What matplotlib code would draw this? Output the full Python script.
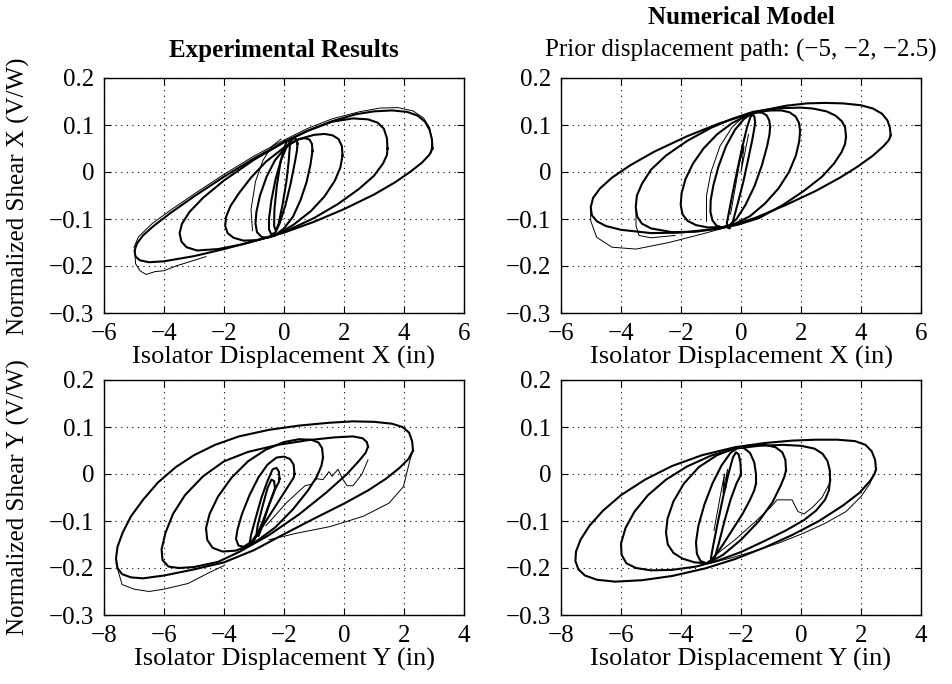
import matplotlib.pyplot as plt

plt.rcParams['font.family'] = ['Liberation Serif', 'DejaVu Serif']
plt.rcParams['font.size'] = 18

# axis ticks
shear_ticks = [-0.3, -0.2, -0.1, 0, 0.1, 0.2]
shear_labels = ['\u22120.3', '\u22120.2', '\u22120.1', '0', '0.1', '0.2']
disp_x_ticks = [-6, -4, -2, 0, 2, 4, 6]
disp_x_labels = ['\u22126', '\u22124', '\u22122', '0', '2', '4', '6']
disp_y_ticks = [-8, -6, -4, -2, 0, 2, 4]
disp_y_labels = ['\u22128', '\u22126', '\u22124', '\u22122', '0', '2', '4']

# ---- experimental, X direction ----
exp_x_a = [(4.95, 0.05), (4.93, 0.07), (4.85, 0.09), (4.7, 0.107), (4.45, 0.12), (4.1, 0.128),
           (3.6, 0.131), (3.0, 0.129), (2.4, 0.123), (1.6, 0.108), (0.8, 0.088), (0.0, 0.064),
           (-1.0, 0.029), (-2.0, -0.01), (-3.0, -0.052), (-3.8, -0.088), (-4.35, -0.115),
           (-4.7, -0.135), (-4.9, -0.152), (-4.98, -0.167), (-4.95, -0.18), (-4.8, -0.188),
           (-4.5, -0.192), (-4.0, -0.19), (-3.0, -0.179), (-2.0, -0.164), (-1.0, -0.147),
           (0.0, -0.129), (1.0, -0.106), (2.0, -0.079), (3.0, -0.048), (3.7, -0.022), (4.2, 0.0),
           (4.6, 0.02), (4.85, 0.037), (4.95, 0.05)]
exp_x_a2 = [(4.9, 0.04), (4.93, 0.07), (4.85, 0.095), (4.65, 0.115), (4.3, 0.13), (3.8, 0.137),
            (3.2, 0.136), (2.5, 0.128), (1.6, 0.113), (0.8, 0.093), (0.0, 0.068), (-1.0, 0.034),
            (-2.0, -0.005), (-3.0, -0.047), (-3.8, -0.082), (-4.4, -0.11), (-4.85, -0.138),
            (-5.0, -0.16)]
exp_x_low = [(-4.97, -0.165), (-4.95, -0.195), (-4.8, -0.21), (-4.6, -0.218), (-4.3, -0.212),
             (-4.0, -0.21), (-3.6, -0.2), (-3.1, -0.19), (-2.6, -0.18)]
exp_x_b = [(3.45, 0.05), (3.43, 0.072), (3.33, 0.092), (3.12, 0.105), (2.8, 0.112), (2.3, 0.114),
           (1.6, 0.107), (0.8, 0.088), (0.0, 0.063), (-1.0, 0.026), (-2.0, -0.018), (-2.7, -0.055),
           (-3.15, -0.085), (-3.4, -0.11), (-3.48, -0.13), (-3.42, -0.148), (-3.25, -0.16),
           (-2.9, -0.167), (-2.2, -0.164), (-1.4, -0.154), (-0.6, -0.14), (0.2, -0.122),
           (1.0, -0.098), (1.8, -0.068), (2.5, -0.036), (3.0, -0.008), (3.3, 0.018), (3.43, 0.036),
           (3.45, 0.05)]
exp_x_c = [(1.95, 0.035), (1.93, 0.055), (1.82, 0.07), (1.62, 0.078), (1.35, 0.081), (1.0, 0.079),
           (0.5, 0.07), (0.0, 0.052), (-0.6, 0.022), (-1.1, -0.012), (-1.5, -0.045), (-1.78, -0.072),
           (-1.93, -0.095), (-1.96, -0.115), (-1.88, -0.13), (-1.68, -0.14), (-1.35, -0.146),
           (-0.9, -0.145), (-0.3, -0.135), (0.3, -0.113), (0.9, -0.083), (1.35, -0.052),
           (1.7, -0.018), (1.88, 0.01), (1.95, 0.035)]
exp_x_d = [(0.95, 0.045), (0.93, 0.06), (0.85, 0.069), (0.7, 0.072), (0.5, 0.07), (0.25, 0.062),
           (0.0, 0.048), (-0.3, 0.025), (-0.58, -0.01), (-0.8, -0.05), (-0.92, -0.085),
           (-0.95, -0.11), (-0.9, -0.128), (-0.75, -0.138), (-0.55, -0.14), (-0.3, -0.135),
           (0.0, -0.12), (0.3, -0.095), (0.55, -0.06), (0.75, -0.022), (0.88, 0.015), (0.95, 0.045)]
exp_x_e = [(0.45, 0.06), (0.43, 0.068), (0.36, 0.072), (0.25, 0.068), (0.1, 0.055), (-0.1, 0.025),
           (-0.28, -0.015), (-0.42, -0.06), (-0.5, -0.1), (-0.5, -0.122), (-0.43, -0.132),
           (-0.3, -0.13), (-0.15, -0.11), (0.05, -0.07), (0.22, -0.025), (0.36, 0.02), (0.43, 0.045),
           (0.45, 0.06)]
exp_x_f = [(0.2, 0.06), (0.17, 0.067), (0.1, 0.066), (0.0, 0.05), (-0.12, 0.02), (-0.24, -0.03),
           (-0.32, -0.08), (-0.33, -0.115), (-0.27, -0.125), (-0.18, -0.11), (-0.05, -0.07),
           (0.08, -0.02), (0.16, 0.025), (0.2, 0.06)]
exp_x_path = [(-1.05, -0.125), (-1.1, -0.08), (-0.95, -0.02), (-0.7, 0.025), (-0.4, 0.055),
              (-0.1, 0.07)]

# ---- numerical model, X direction ----
num_x_a = [(4.99, 0.078), (4.96, 0.095), (4.88, 0.11), (4.7, 0.124), (4.4, 0.135), (4.0, 0.142),
           (3.4, 0.146), (2.8, 0.147), (2.2, 0.146), (1.5, 0.141), (0.8, 0.132), (0.2, 0.122),
           (-0.7, 0.104), (-1.8, 0.076), (-2.9, 0.043), (-3.7, 0.014), (-4.3, -0.012),
           (-4.7, -0.035), (-4.93, -0.055), (-5.01, -0.075), (-4.97, -0.092), (-4.8, -0.105),
           (-4.5, -0.115), (-4.0, -0.123), (-3.0, -0.13), (-2.0, -0.129), (-1.0, -0.122),
           (-0.3, -0.114), (0.5, -0.097), (1.5, -0.07), (2.5, -0.04), (3.3, -0.012), (3.9, 0.012),
           (4.4, 0.035), (4.75, 0.055), (4.93, 0.068), (4.99, 0.078)]
num_x_virgin = [(-5.01, -0.075), (-5.01, -0.104), (-4.81, -0.139), (-4.3, -0.16), (-3.5, -0.164),
                (-2.4, -0.15), (-1.3, -0.132), (-0.5, -0.118)]
num_x_b = [(3.5, 0.075), (3.47, 0.095), (3.36, 0.108), (3.15, 0.12), (2.85, 0.129), (2.4, 0.135),
           (2.0, 0.137), (1.4, 0.136), (0.8, 0.132), (0.4, 0.128), (-0.3, 0.113), (-1.0, 0.094),
           (-1.8, 0.066), (-2.5, 0.035), (-3.0, 0.005), (-3.3, -0.025), (-3.47, -0.05),
           (-3.51, -0.075), (-3.46, -0.095), (-3.3, -0.11), (-3.0, -0.12), (-2.3, -0.128),
           (-1.5, -0.127), (-0.7, -0.12), (-0.1, -0.112), (0.6, -0.098), (1.4, -0.07), (2.1, -0.04),
           (2.7, -0.01), (3.1, 0.018), (3.35, 0.042), (3.47, 0.06), (3.5, 0.075)]
num_x_b_thin = [(-3.5, -0.068), (-3.5, -0.115), (-3.4, -0.135), (-3.0, -0.14), (-2.2, -0.135)]
num_x_c = [(1.97, 0.088), (1.93, 0.105), (1.82, 0.118), (1.62, 0.127), (1.35, 0.131), (1.0, 0.131),
           (0.6, 0.128), (0.2, 0.12), (-0.3, 0.104), (-0.8, 0.08), (-1.25, 0.05), (-1.6, 0.018),
           (-1.85, -0.015), (-1.98, -0.045), (-2.01, -0.07), (-1.95, -0.09), (-1.78, -0.104),
           (-1.5, -0.113), (-1.1, -0.118), (-0.6, -0.117), (-0.2, -0.11), (0.3, -0.094),
           (0.8, -0.067), (1.25, -0.035), (1.6, 0.0), (1.83, 0.035), (1.94, 0.065), (1.97, 0.088)]
num_x_d = [(0.97, 0.096), (0.94, 0.11), (0.86, 0.12), (0.72, 0.126), (0.55, 0.127), (0.35, 0.124),
           (0.1, 0.113), (-0.2, 0.09), (-0.5, 0.055), (-0.75, 0.012), (-0.92, -0.028),
           (-1.01, -0.06), (-1.02, -0.085), (-0.95, -0.103), (-0.82, -0.114), (-0.62, -0.118),
           (-0.4, -0.114), (-0.15, -0.1), (0.15, -0.07), (0.45, -0.03), (0.7, 0.015), (0.87, 0.055),
           (0.95, 0.08), (0.97, 0.096)]
num_x_e = [(0.47, 0.105), (0.45, 0.117), (0.4, 0.122), (0.32, 0.118), (0.2, 0.095), (0.05, 0.055),
           (-0.12, 0.005), (-0.28, -0.045), (-0.4, -0.085), (-0.47, -0.108), (-0.45, -0.118),
           (-0.38, -0.12), (-0.27, -0.105), (-0.1, -0.065), (0.08, -0.02), (0.25, 0.03),
           (0.38, 0.07), (0.45, 0.095), (0.47, 0.105)]
num_x_path = [(-1.15, -0.105), (-1.15, -0.05), (-1.0, 0.0), (-0.7, 0.055), (-0.3, 0.095),
              (0.2, 0.125)]
num_x_zig = [(-0.35, -0.09), (-0.1, 0.0), (0.05, 0.06), (-0.05, 0.02), (0.1, 0.055), (0.0, 0.0),
             (0.25, 0.08)]

# ---- experimental, Y direction ----
exp_y_a = [(2.3, 0.05), (2.27, 0.07), (2.17, 0.088), (1.95, 0.1), (1.6, 0.107), (1.0, 0.111),
           (0.3, 0.112), (-0.5, 0.109), (-1.5, 0.103), (-2.5, 0.094), (-3.5, 0.08), (-4.3, 0.062),
           (-5.0, 0.04), (-5.6, 0.015), (-6.2, -0.018), (-6.7, -0.055), (-7.1, -0.09),
           (-7.38, -0.125), (-7.55, -0.155), (-7.6, -0.18), (-7.55, -0.2), (-7.4, -0.213),
           (-7.1, -0.22), (-6.7, -0.222), (-6.0, -0.216), (-5.0, -0.203), (-4.0, -0.188),
           (-3.0, -0.162), (-2.0, -0.128), (-1.0, -0.095), (0.0, -0.063), (0.8, -0.035),
           (1.4, -0.01), (1.85, 0.013), (2.15, 0.032), (2.3, 0.05)]
exp_y_low = [(-7.6, -0.19), (-7.4, -0.235), (-7.0, -0.245), (-6.5, -0.25), (-6.0, -0.245),
             (-5.2, -0.233), (-4.5, -0.21), (-4.0, -0.195)]
exp_y_tail = [(2.3, 0.05), (2.2, 0.03), (1.98, -0.027), (1.5, -0.062), (0.64, -0.09),
              (-0.47, -0.112), (-1.58, -0.126), (-2.5, -0.14)]
exp_y_b = [(0.8, 0.058), (0.76, 0.068), (0.62, 0.076), (0.3, 0.08), (-0.3, 0.078), (-1.2, 0.072),
           (-2.2, 0.062), (-3.2, 0.047), (-4.0, 0.027), (-4.7, -0.005), (-5.3, -0.045),
           (-5.7, -0.085), (-5.95, -0.125), (-6.08, -0.16), (-6.05, -0.183), (-5.85, -0.197),
           (-5.5, -0.2), (-5.0, -0.198), (-4.2, -0.187), (-3.5, -0.166), (-2.5, -0.13),
           (-1.5, -0.086), (-0.6, -0.04), (0.1, 0.0), (0.5, 0.028), (0.72, 0.045), (0.8, 0.058)]
exp_y_c = [(-0.7, 0.035), (-0.73, 0.055), (-0.85, 0.067), (-1.1, 0.073), (-1.5, 0.074),
           (-2.0, 0.068), (-2.6, 0.052), (-3.2, 0.027), (-3.75, -0.008), (-4.2, -0.048),
           (-4.48, -0.085), (-4.6, -0.115), (-4.56, -0.14), (-4.38, -0.157), (-4.05, -0.165),
           (-3.6, -0.163), (-3.0, -0.147), (-2.3, -0.114), (-1.7, -0.075), (-1.2, -0.035),
           (-0.9, -0.005), (-0.75, 0.018), (-0.7, 0.035)]
exp_y_d = [(-1.65, 0.0), (-1.68, 0.02), (-1.8, 0.032), (-2.0, 0.037), (-2.25, 0.035),
           (-2.55, 0.02), (-2.85, -0.007), (-3.15, -0.045), (-3.4, -0.085), (-3.55, -0.118),
           (-3.6, -0.138), (-3.52, -0.152), (-3.35, -0.155), (-3.1, -0.145), (-2.75, -0.115),
           (-2.4, -0.08), (-2.05, -0.045), (-1.8, -0.02), (-1.68, -0.008), (-1.65, 0.0)]
exp_y_e = [(-2.15, -0.01), (-2.17, 0.005), (-2.25, 0.013), (-2.38, 0.01), (-2.55, -0.015),
           (-2.75, -0.05), (-2.95, -0.095), (-3.1, -0.13), (-3.14, -0.145), (-3.05, -0.148),
           (-2.9, -0.13), (-2.7, -0.1), (-2.48, -0.062), (-2.28, -0.03), (-2.17, -0.017),
           (-2.15, -0.01)]
exp_y_f = [(-2.3, -0.03), (-2.33, -0.015), (-2.42, -0.012), (-2.55, -0.03), (-2.72, -0.07),
           (-2.88, -0.11), (-2.92, -0.13), (-2.85, -0.132), (-2.72, -0.11), (-2.55, -0.075),
           (-2.38, -0.045), (-2.3, -0.03)]
exp_y_path = [(-2.6, -0.11), (-1.9, -0.06), (-1.3, -0.025), (-1.1, -0.022), (-0.9, -0.01),
              (-0.7, -0.012), (-0.5, 0.005), (-0.4, -0.005), (-0.2, 0.01), (-0.05, -0.01),
              (0.1, -0.025), (0.3, -0.025), (0.6, 0.0), (0.8, 0.03)]

# ---- numerical model, Y direction ----
num_y_a = [(2.5, 0.01), (2.47, 0.03), (2.36, 0.048), (2.15, 0.062), (1.8, 0.07), (1.2, 0.073),
           (0.5, 0.073), (-0.3, 0.071), (-1.2, 0.066), (-2.2, 0.057), (-3.3, 0.04), (-4.3, 0.017),
           (-5.2, -0.012), (-6.0, -0.045), (-6.6, -0.078), (-7.05, -0.11), (-7.35, -0.14),
           (-7.5, -0.165), (-7.52, -0.185), (-7.42, -0.203), (-7.2, -0.216), (-6.8, -0.225),
           (-6.2, -0.229), (-5.3, -0.226), (-4.3, -0.217), (-3.2, -0.201), (-2.2, -0.181),
           (-1.2, -0.156), (-0.3, -0.13), (0.6, -0.1), (1.4, -0.067), (1.95, -0.04), (2.3, -0.015),
           (2.45, 0.0), (2.5, 0.01)]
num_y_tail = [(2.5, 0.01), (2.3, -0.02), (2.0, -0.048), (1.5, -0.08), (0.8, -0.105),
              (0.08, -0.126), (-0.7, -0.146), (-1.5, -0.163), (-2.3, -0.178), (-3.03, -0.19)]
num_y_b = [(0.97, -0.013), (0.96, 0.008), (0.88, 0.028), (0.72, 0.043), (0.45, 0.054), (0.0, 0.06),
           (-0.6, 0.062), (-1.4, 0.06), (-2.2, 0.054), (-3.0, 0.039), (-3.8, 0.016), (-4.5, -0.012),
           (-5.1, -0.045), (-5.55, -0.08), (-5.85, -0.115), (-6.0, -0.148), (-5.98, -0.172),
           (-5.82, -0.19), (-5.5, -0.2), (-5.0, -0.205), (-4.3, -0.204), (-3.5, -0.197),
           (-2.8, -0.185), (-2.0, -0.166), (-1.2, -0.142), (-0.5, -0.12), (0.1, -0.098),
           (0.5, -0.078), (0.8, -0.055), (0.93, -0.035), (0.97, -0.013)]
num_y_c = [(-0.5, 0.008), (-0.52, 0.03), (-0.62, 0.046), (-0.85, 0.057), (-1.2, 0.062),
           (-1.7, 0.061), (-2.2, 0.055), (-2.8, 0.04), (-3.4, 0.015), (-3.9, -0.02), (-4.25, -0.058),
           (-4.45, -0.095), (-4.5, -0.125), (-4.44, -0.15), (-4.25, -0.168), (-3.95, -0.18),
           (-3.55, -0.188), (-3.1, -0.19), (-2.6, -0.172), (-2.0, -0.14), (-1.4, -0.1),
           (-0.95, -0.06), (-0.68, -0.025), (-0.55, -0.005), (-0.5, 0.008)]
num_y_d = [(-1.5, -0.02), (-1.5, 0.0), (-1.56, 0.025), (-1.7, 0.045), (-1.9, 0.055), (-2.1, 0.056),
           (-2.35, 0.045), (-2.65, 0.018), (-2.95, -0.02), (-3.22, -0.065), (-3.42, -0.11),
           (-3.5, -0.145), (-3.47, -0.17), (-3.35, -0.185), (-3.15, -0.19), (-2.9, -0.178),
           (-2.6, -0.15), (-2.25, -0.115), (-1.95, -0.085), (-1.7, -0.055), (-1.56, -0.035),
           (-1.5, -0.02)]
num_y_e = [(-2.0, 0.0), (-2.02, 0.025), (-2.08, 0.042), (-2.17, 0.046), (-2.27, 0.035),
           (-2.42, 0.0), (-2.6, -0.05), (-2.78, -0.105), (-2.92, -0.15), (-3.0, -0.178),
           (-2.98, -0.188), (-2.9, -0.183), (-2.75, -0.15), (-2.55, -0.1), (-2.35, -0.055),
           (-2.15, -0.02), (-2.03, -0.005), (-2.0, 0.0)]
num_y_zig = [(-2.9, -0.12), (-2.7, -0.05), (-2.55, 0.0), (-2.6, -0.04), (-2.45, 0.01), (-2.5, -0.03)]
num_y_path = [(-3.0, -0.18), (-2.2, -0.14), (-1.5, -0.1), (-1.0, -0.07), (-0.8, -0.055),
              (-0.3, -0.055), (-0.1, -0.08), (0.1, -0.085), (0.4, -0.07), (0.7, -0.05), (0.95, -0.02)]

thick, thin = 1.5, 0.7
panels = [
    ([(exp_x_a, thick), (exp_x_a2, thin), (exp_x_low, thin), (exp_x_b, thick), (exp_x_c, thick),
      (exp_x_d, thick), (exp_x_e, thick), (exp_x_f, thick), (exp_x_path, thin)],
     (-6, 6), disp_x_ticks, disp_x_labels, 'Isolator Displacement X (in)'),
    ([(num_x_a, thick), (num_x_virgin, thin), (num_x_b, thick), (num_x_b_thin, thin),
      (num_x_c, thick), (num_x_d, thick), (num_x_e, thick), (num_x_path, thin), (num_x_zig, thin)],
     (-6, 6), disp_x_ticks, disp_x_labels, 'Isolator Displacement X (in)'),
    ([(exp_y_a, thick), (exp_y_low, thin), (exp_y_tail, thin), (exp_y_b, thick), (exp_y_c, thick),
      (exp_y_d, thick), (exp_y_e, thick), (exp_y_f, thick), (exp_y_path, thin)],
     (-8, 4), disp_y_ticks, disp_y_labels, 'Isolator Displacement Y (in)'),
    ([(num_y_a, thick), (num_y_tail, thin), (num_y_b, thick), (num_y_c, thick), (num_y_d, thick),
      (num_y_e, thick), (num_y_zig, thin), (num_y_path, thin)],
     (-8, 4), disp_y_ticks, disp_y_labels, 'Isolator Displacement Y (in)'),
]

W, H = 953, 684
fig = plt.figure(figsize=(W / 100, H / 100), dpi=100)
boxes = [(104, 78), (561, 78), (104, 380), (561, 380)]

for (curves, xlim, xt, xtl, xlabel), (px, py) in zip(panels, boxes):
    ax = fig.add_axes([px / W, 1 - (py + 235) / H, 360 / W, 235 / H])
    for pts, lw in curves:
        ax.plot([p[0] for p in pts], [p[1] for p in pts], color='black', lw=lw,
                solid_joinstyle='round')
    ax.set_xlim(xlim)
    ax.set_ylim(-0.3, 0.2)
    ax.set_xticks(xt)
    ax.set_xticklabels(xtl)
    ax.set_yticks(shear_ticks)
    ax.set_yticklabels(shear_labels)
    ax.tick_params(direction='in', length=5, width=0.8, top=True, right=True, pad=7)
    ax.grid(True, color='black', linestyle=(0, (1, 4)), linewidth=0.8)
    for s in ax.spines.values():
        s.set_linewidth(1.0)
    ax.set_xlabel(xlabel, labelpad=1, fontsize=19)

fig.text(284 / W, 1 - 50 / H, 'Experimental Results', ha='center', va='center', fontweight='bold')
fig.text(741 / W, 1 - 18 / H, 'Numerical Model', ha='center', va='center', fontweight='bold')
fig.text(741 / W, 1 - 50 / H, 'Prior displacement path: (\u22125, \u22122, \u22122.5)',
         ha='center', va='center')
fig.text(18 / W, 1 - 196 / H, 'Normalized Shear X (V/W)', rotation=90, ha='center', va='center')
fig.text(18 / W, 1 - 497 / H, 'Normalized Shear Y (V/W)', rotation=90, ha='center', va='center')

fig.savefig('out.png', dpi=100)
